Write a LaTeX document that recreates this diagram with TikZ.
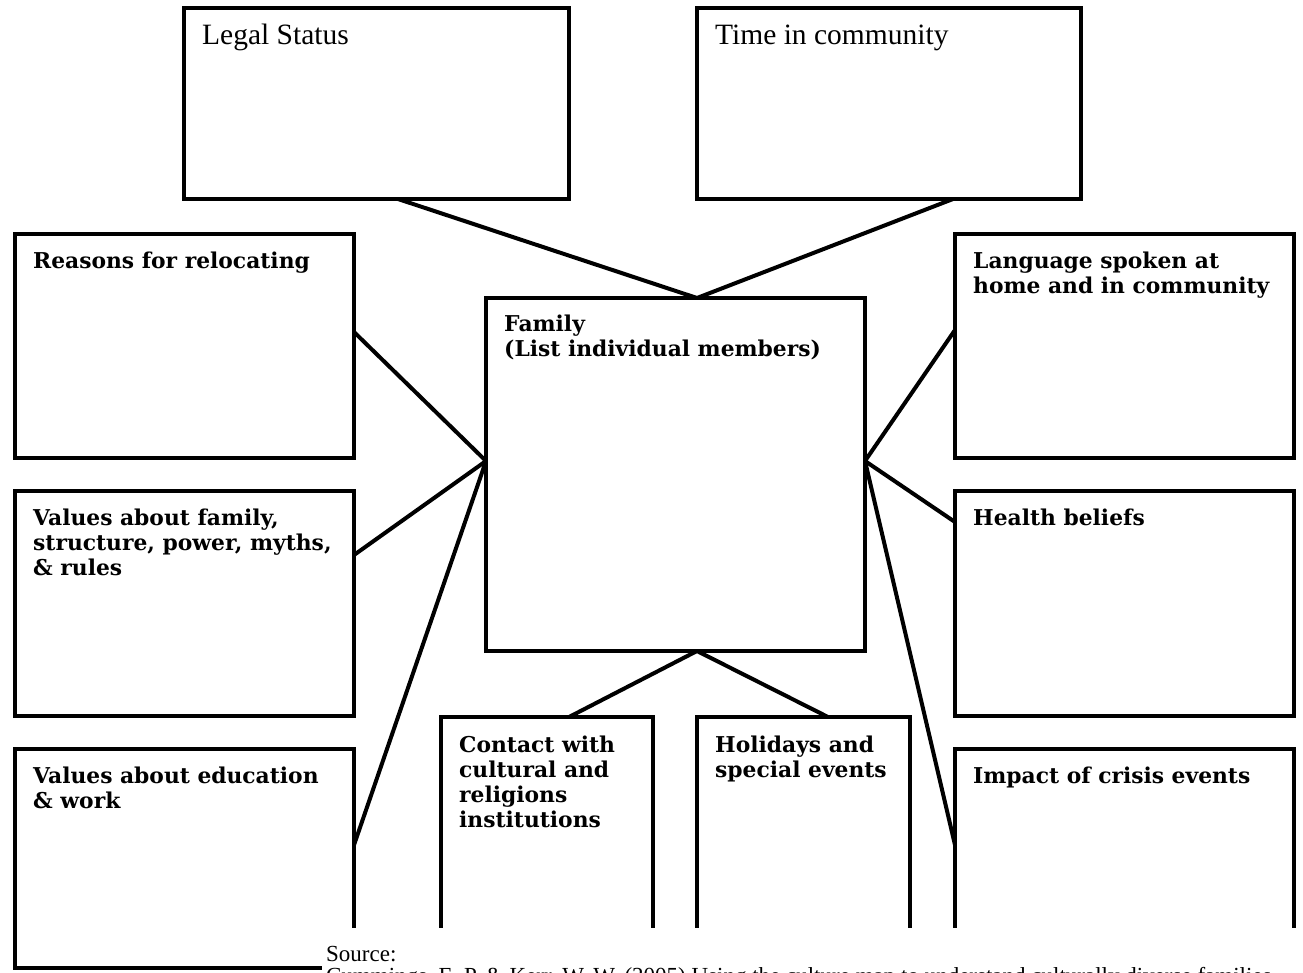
\documentclass[tikz,border=0pt]{standalone}
\usepackage{fontspec}
\setmainfont{Liberation Serif}
\newfontfamily\slabfont{DejaVu Serif}
\usetikzlibrary{calc,fit}
\begin{document}
\begin{tikzpicture}[x=1pt,y=-1pt,
  box/.style={draw, line width=3.8pt, rectangle, inner sep=0pt, outer sep=0pt},
  lbl/.style={anchor=base west, align=left, inner sep=0pt,
    font=\slabfont\bfseries\fontsize{21.8}{25}\selectfont},
  reglbl/.style={anchor=base west, align=left, inner sep=0pt,
    font=\fontsize{29.5}{32}\selectfont},
  srclbl/.style={anchor=base west, align=left, inner sep=0pt,
    font=\fontsize{23}{26}\selectfont},
  link/.style={line width=4pt}]
\useasboundingbox (0,0) rectangle (1303,972);
\fill[white] (0,0) rectangle (1303,972);

% boxes
\node[box, fit={(184,8) (569,199)}] (legal) {};
\node[box, fit={(697,8) (1081,199)}] (time) {};
\node[box, fit={(15,234) (354,458)}] (reasons) {};
\node[box, fit={(15,491) (354,716)}] (valfam) {};
\node[box, fit={(15,749) (354,968)}] (valedu) {};
\node[box, fit={(486,298) (865,651)}] (family) {};
\node[box, fit={(955,234) (1294,458)}] (lang) {};
\node[box, fit={(955,491) (1294,716)}] (health) {};
\node[box, fit={(955,749) (1294,990)}] (impact) {};
\node[box, fit={(441,717) (653,990)}] (contact) {};
\node[box, fit={(697,717) (910,990)}] (holidays) {};

% labels (base anchor = baseline of the last line)
\node[reglbl] (tlegal) at ([xshift=18pt,yshift=-36pt]legal.north west) {Legal Status};
\node[reglbl] (ttime) at ([xshift=18pt,yshift=-36pt]time.north west) {Time in community};
\node[lbl] (treasons) at ([xshift=18pt,yshift=-34pt]reasons.north west) {Reasons for relocating};
\node[lbl] (tvalfam) at ([xshift=18pt,yshift=-84pt]valfam.north west) {Values about family,\\structure, power, myths,\\\& rules};
\node[lbl] (tvaledu) at ([xshift=18pt,yshift=-59pt]valedu.north west) {Values about education\\\& work};
\node[lbl] (tfamily) at ([xshift=18pt,yshift=-58pt]family.north west) {Family\\(List individual members)};
\node[lbl] (tlang) at ([xshift=18pt,yshift=-59pt]lang.north west) {Language spoken at\\home and in community};
\node[lbl] (thealth) at ([xshift=18pt,yshift=-34pt]health.north west) {Health beliefs};
\node[lbl] (timpact) at ([xshift=18pt,yshift=-34pt]impact.north west) {Impact of crisis events};
\node[lbl] (tcontact) at ([xshift=18pt,yshift=-110pt]contact.north west) {Contact with\\cultural and\\religions\\institutions};
\node[lbl] (tholidays) at ([xshift=18pt,yshift=-60pt]holidays.north west) {Holidays and\\special events};

% connection points on the family box
\coordinate (ftop) at ([xshift=21.5pt]family.north);
\coordinate (fbot) at ([xshift=21.5pt]family.south);
\coordinate (fleft) at ([yshift=13.5pt]family.west);
\coordinate (fright) at ([yshift=13.5pt]family.east);

% connectors
\draw[link] ([xshift=21.5pt]legal.south) -- (ftop);
\draw[link] ([xshift=-128pt]time.south east) -- (ftop);
\draw[link] ([yshift=-98pt]reasons.north east) -- (fleft);
\draw[link] ([yshift=-64pt]valfam.north east) -- (fleft);
\draw[link] ([yshift=-96pt]valedu.north east) -- (fleft);
\draw[link] ([yshift=-96pt]lang.north west) -- (fright);
\draw[link] ([yshift=-31pt]health.north west) -- (fright);
\draw[link] ([yshift=-96pt]impact.north west) -- (fright);
\draw[link] (fbot) -- ([xshift=-84pt]contact.north east);
\draw[link] (fbot) -- ([xshift=131pt]holidays.north west);

% source block covering the lower edge
\fill[white] (322,928) rectangle (1310,1000);
\node[srclbl] (src) at (326,961) {Source:};
\node[srclbl] (srcref) at (326,983) {Cummings, E. P. \& Kerr, W. W. (2005) Using the culture map to understand culturally diverse families};
\end{tikzpicture}
\end{document}
